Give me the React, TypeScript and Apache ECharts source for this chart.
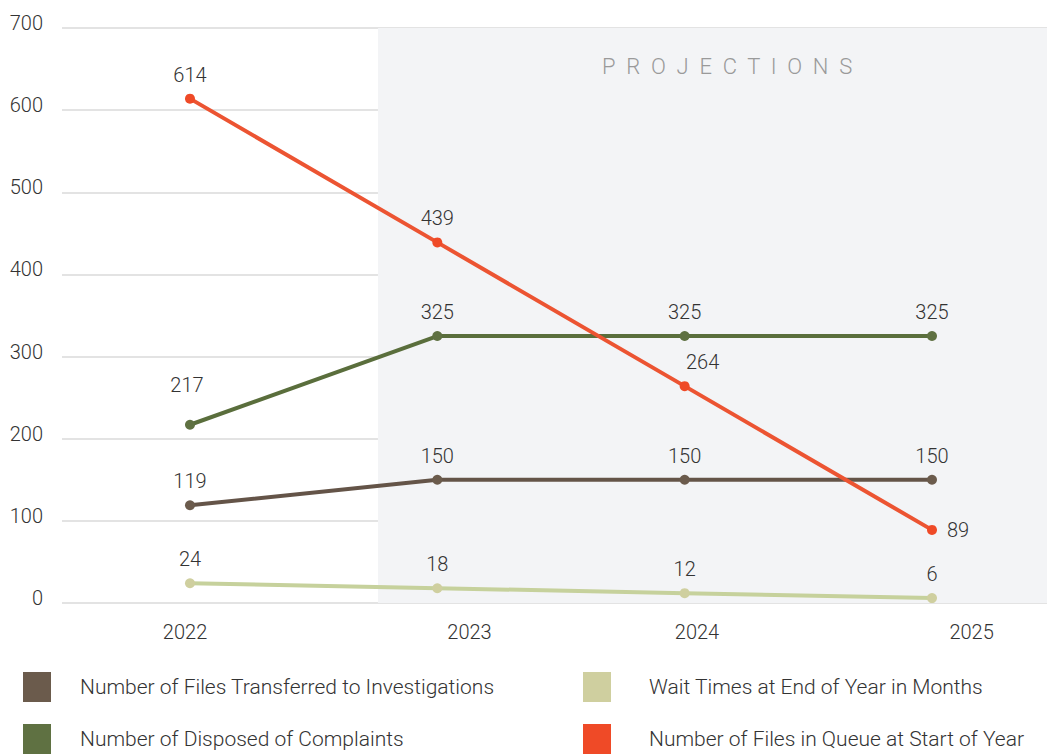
import React, { useEffect, useRef } from "react";
import * as echarts from "echarts";

const years = ["2022", "2023", "2024", "2025"];
const transferred = [119, 150, 150, 150];
const disposed = [217, 325, 325, 325];
const waitTimes = [24, 18, 12, 6];
const queue = [614, 439, 264, 89];
const yTicks = [0, 100, 200, 300, 400, 500, 600, 700];
const projectionLabel = "PROJECTIONS";

const FONT = "Roboto";

export default function App() {
  const ref = useRef<HTMLDivElement>(null);
  useEffect(() => {
    document.body.style.margin = "0";
    const chart = echarts.init(ref.current!, null, { renderer: "svg" });
    const xMin = -0.5175;
    const xMax = 3.465;
    const labelSpots = [-0.02, 1.13, 2.05, 3.16];
    const pts = (arr: number[]) => arr.map((v, i) => [i, v]);
    const baseLabel = {
      show: true,
      position: "top",
      distance: 9,
      fontFamily: FONT,
      fontWeight: 300,
      fontSize: 20,
      color: "#333",
    };
    const mk = (name: string, color: string, lineColor: string, data: any[], extra: any = {}) => ({
      name,
      type: "line",
      data,
      symbol: "circle",
      symbolSize: 10,
      itemStyle: { color },
      lineStyle: { color: lineColor, width: 4 },
      label: baseLabel,
      ...extra,
    });
    const queueData = pts(queue).map((p, i) => {
      if (i === 2) return { value: p, label: { offset: [18, 0] } };
      if (i === 3) return { value: p, label: { position: "right", distance: 10 } };
      return { value: p };
    });
    const disposedData = pts(disposed).map((p, i) =>
      i === 0 ? { value: p, label: { offset: [-3, -16] } } : { value: p }
    );
    const legendCommon = {
      top: 672,
      orient: "vertical",
      icon: "rect",
      itemWidth: 28,
      itemHeight: 30,
      itemGap: 22,
      padding: 0,
      height: 120,
    };
    chart.setOption({
      animation: false,
      title: {
        text: projectionLabel.split("").join("  "),
        left: 602,
        top: 55,
        padding: 0,
        textStyle: { fontFamily: FONT, fontWeight: 300, fontSize: 22, color: "#9a9a9a" },
      },
      grid: { left: 62, right: 0, top: 28, bottom: 151 },
      xAxis: {
        type: "value",
        min: xMin,
        max: xMax,
        splitLine: { show: false },
        axisLine: { show: false },
        axisTick: { show: false },
        axisLabel: {
          customValues: labelSpots,
          formatter: (v: number) => years[Math.round(v)] ?? "",
          margin: 19,
          fontFamily: FONT,
          fontWeight: 300,
          fontSize: 20,
          color: "#333",
          showMinLabel: true,
          showMaxLabel: true,
        },
      },
      yAxis: {
        type: "value",
        min: yTicks[0],
        max: yTicks[yTicks.length - 1],
        interval: 100,
        axisLine: { show: false },
        axisTick: { show: false },
        splitLine: { lineStyle: { color: "#e3e3e3", width: 2 } },
        axisLabel: {
          margin: 19,
          formatter: (v: number) => `{a|${v}}`,
          rich: {
            a: {
              fontFamily: FONT,
              fontWeight: 300,
              fontSize: 20,
              color: "#333",
              padding: [0, 0, 10, 0],
            },
          },
        },
      },
      legend: [
        {
          ...legendCommon,
          left: 23,
          data: ["Number of Files Transferred to Investigations", "Number of Disposed of Complaints"],
          textStyle: { fontFamily: FONT, fontWeight: 300, fontSize: 21, color: "#333", padding: [0, 0, 0, 24] },
        },
        {
          ...legendCommon,
          left: 583,
          data: ["Wait Times at End of Year in Months", "Number of Files in Queue at Start of Year"],
          textStyle: { fontFamily: FONT, fontWeight: 300, fontSize: 21, color: "#333", padding: [0, 0, 0, 33] },
        },
      ],
      series: [
        mk("Number of Files Transferred to Investigations", "#6b5b4c", "#645448", pts(transferred), {
          markArea: {
            silent: true,
            itemStyle: { color: "#f3f4f6" },
            data: [[{ xAxis: 0.76, yAxis: 0 }, { xAxis: xMax, yAxis: 700 }]],
          },
          z: 3,
        }),
        mk("Number of Disposed of Complaints", "#5f7142", "#5a6e3c", disposedData, { z: 3 }),
        mk("Wait Times at End of Year in Months", "#cfcf9f", "#c6d19c", pts(waitTimes), { z: 2 }),
        mk("Number of Files in Queue at Start of Year", "#ef4a27", "#ec5432", queueData, { z: 4 }),
      ],
    });
    return () => chart.dispose();
  }, []);
  return <div ref={ref} style={{ width: 1047, height: 754 }} />;
}
